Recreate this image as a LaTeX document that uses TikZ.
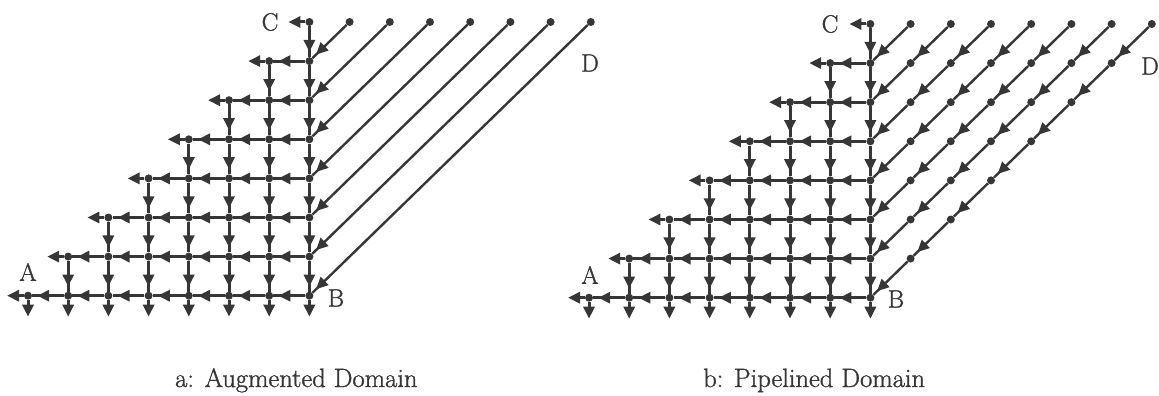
\documentclass[tikz,border=0pt]{standalone}
\usepackage{fontspec}
\newfontfamily\heavyfont{Latin Modern Roman}[FakeBold=1.2]
\usetikzlibrary{arrows.meta,decorations.markings}
\definecolor{ink}{HTML}{363636}
\tikzset{
  x=1pt,y=-1pt,
  dot/.style={circle,fill=ink,inner sep=0pt,minimum size=8pt},
  edge/.style={draw=ink,line width=3pt,postaction={decorate},
     decoration={markings,mark=at position -5pt with {\arrow{Triangle[length=12pt,width=11pt]}}}},
  diag/.style={edge,line width=2.4pt},
  stub/.style={draw=ink,line width=3pt,-{Triangle[length=12pt,width=11pt]}},
  lab/.style={font=\heavyfont\fontsize{25}{30}\selectfont,text=ink,inner sep=0pt},
  captext/.style={font=\heavyfont\fontsize{26.5}{30}\selectfont,text=ink,inner sep=0pt},
}
\newcommand\griddomain[1]{%
  \foreach \j in {0,...,7}{
    \pgfmathtruncatemacro\lo{7-\j}
    \foreach \i in {\lo,...,7}{
      \node[dot] (#1-\i-\j) at (40.2*\i,39.1*\j) {};
    }
    \coordinate (#1-w\j) at (40.2*\lo-21,39.1*\j);
  }
  \foreach \i in {0,...,7}{
    \coordinate (#1-s\i) at (40.2*\i,39.1*7+21);
  }
  % horizontal arrows
  \foreach \j in {1,...,7}{
    \pgfmathtruncatemacro\lo{8-\j}
    \foreach \i in {\lo,...,7}{
      \pgfmathtruncatemacro\k{\i-1}
      \draw[edge] (#1-\i-\j) -- (#1-\k-\j);
    }
  }
  % left stubs
  \foreach \j in {0,...,7}{
    \pgfmathtruncatemacro\lo{7-\j}
    \draw[stub] (#1-\lo-\j) -- (#1-w\j);
  }
  % vertical arrows
  \foreach \j in {0,...,6}{
    \pgfmathtruncatemacro\lo{7-\j}
    \pgfmathtruncatemacro\n{\j+1}
    \foreach \i in {\lo,...,7}{
      \draw[edge] (#1-\i-\j) -- (#1-\i-\n);
    }
  }
  % bottom stubs
  \foreach \i in {0,...,7}{
    \draw[stub] (#1-\i-7) -- (#1-s\i);
  }
}
\begin{document}
\begin{tikzpicture}
\useasboundingbox (0,0) rectangle (1159,396);
% ---------- a: augmented domain ----------
\begin{scope}[shift={(28,22)}]
  \griddomain{L}
  \foreach \i in {8,...,14}{
    \node[dot] (L-\i-0) at (40.2*\i,0) {};
  }
  \foreach \k in {1,...,7}{
    \pgfmathtruncatemacro\i{7+\k}
    \draw[diag] (L-\i-0) -- (L-7-\k);
  }
  \node[lab] (LC) at (242,0) {C};
  \node[lab] (LA) at (0,250) {A};
  \node[lab] (LB) at (308,276) {B};
  \node[lab] (LD) at (562,41) {D};
\end{scope}
% ---------- b: pipelined domain ----------
\begin{scope}[shift={(589,24)}]
  \griddomain{R}
  \foreach \j in {0,...,6}{
    \pgfmathtruncatemacro\hi{14-\j}
    \foreach \i in {8,...,\hi}{
      \node[dot] (R-\i-\j) at (40.2*\i,39.1*\j) {};
    }
  }
  \foreach \j in {0,...,6}{
    \pgfmathtruncatemacro\hi{14-\j}
    \pgfmathtruncatemacro\n{\j+1}
    \foreach \i in {8,...,\hi}{
      \pgfmathtruncatemacro\m{\i-1}
      \draw[diag] (R-\i-\j) -- (R-\m-\n);
    }
  }
  \node[lab] (RC) at (241,0) {C};
  \node[lab] (RA) at (1,251) {A};
  \node[lab] (RB) at (307,275) {B};
  \node[lab] (RD) at (561,42) {D};
\end{scope}
\node[captext,anchor=base west] (capa) at (175,387) {a: Augmented Domain};
\node[captext,anchor=base west] (capb) at (703,387) {b: Pipelined Domain};
\end{tikzpicture}
\end{document}
